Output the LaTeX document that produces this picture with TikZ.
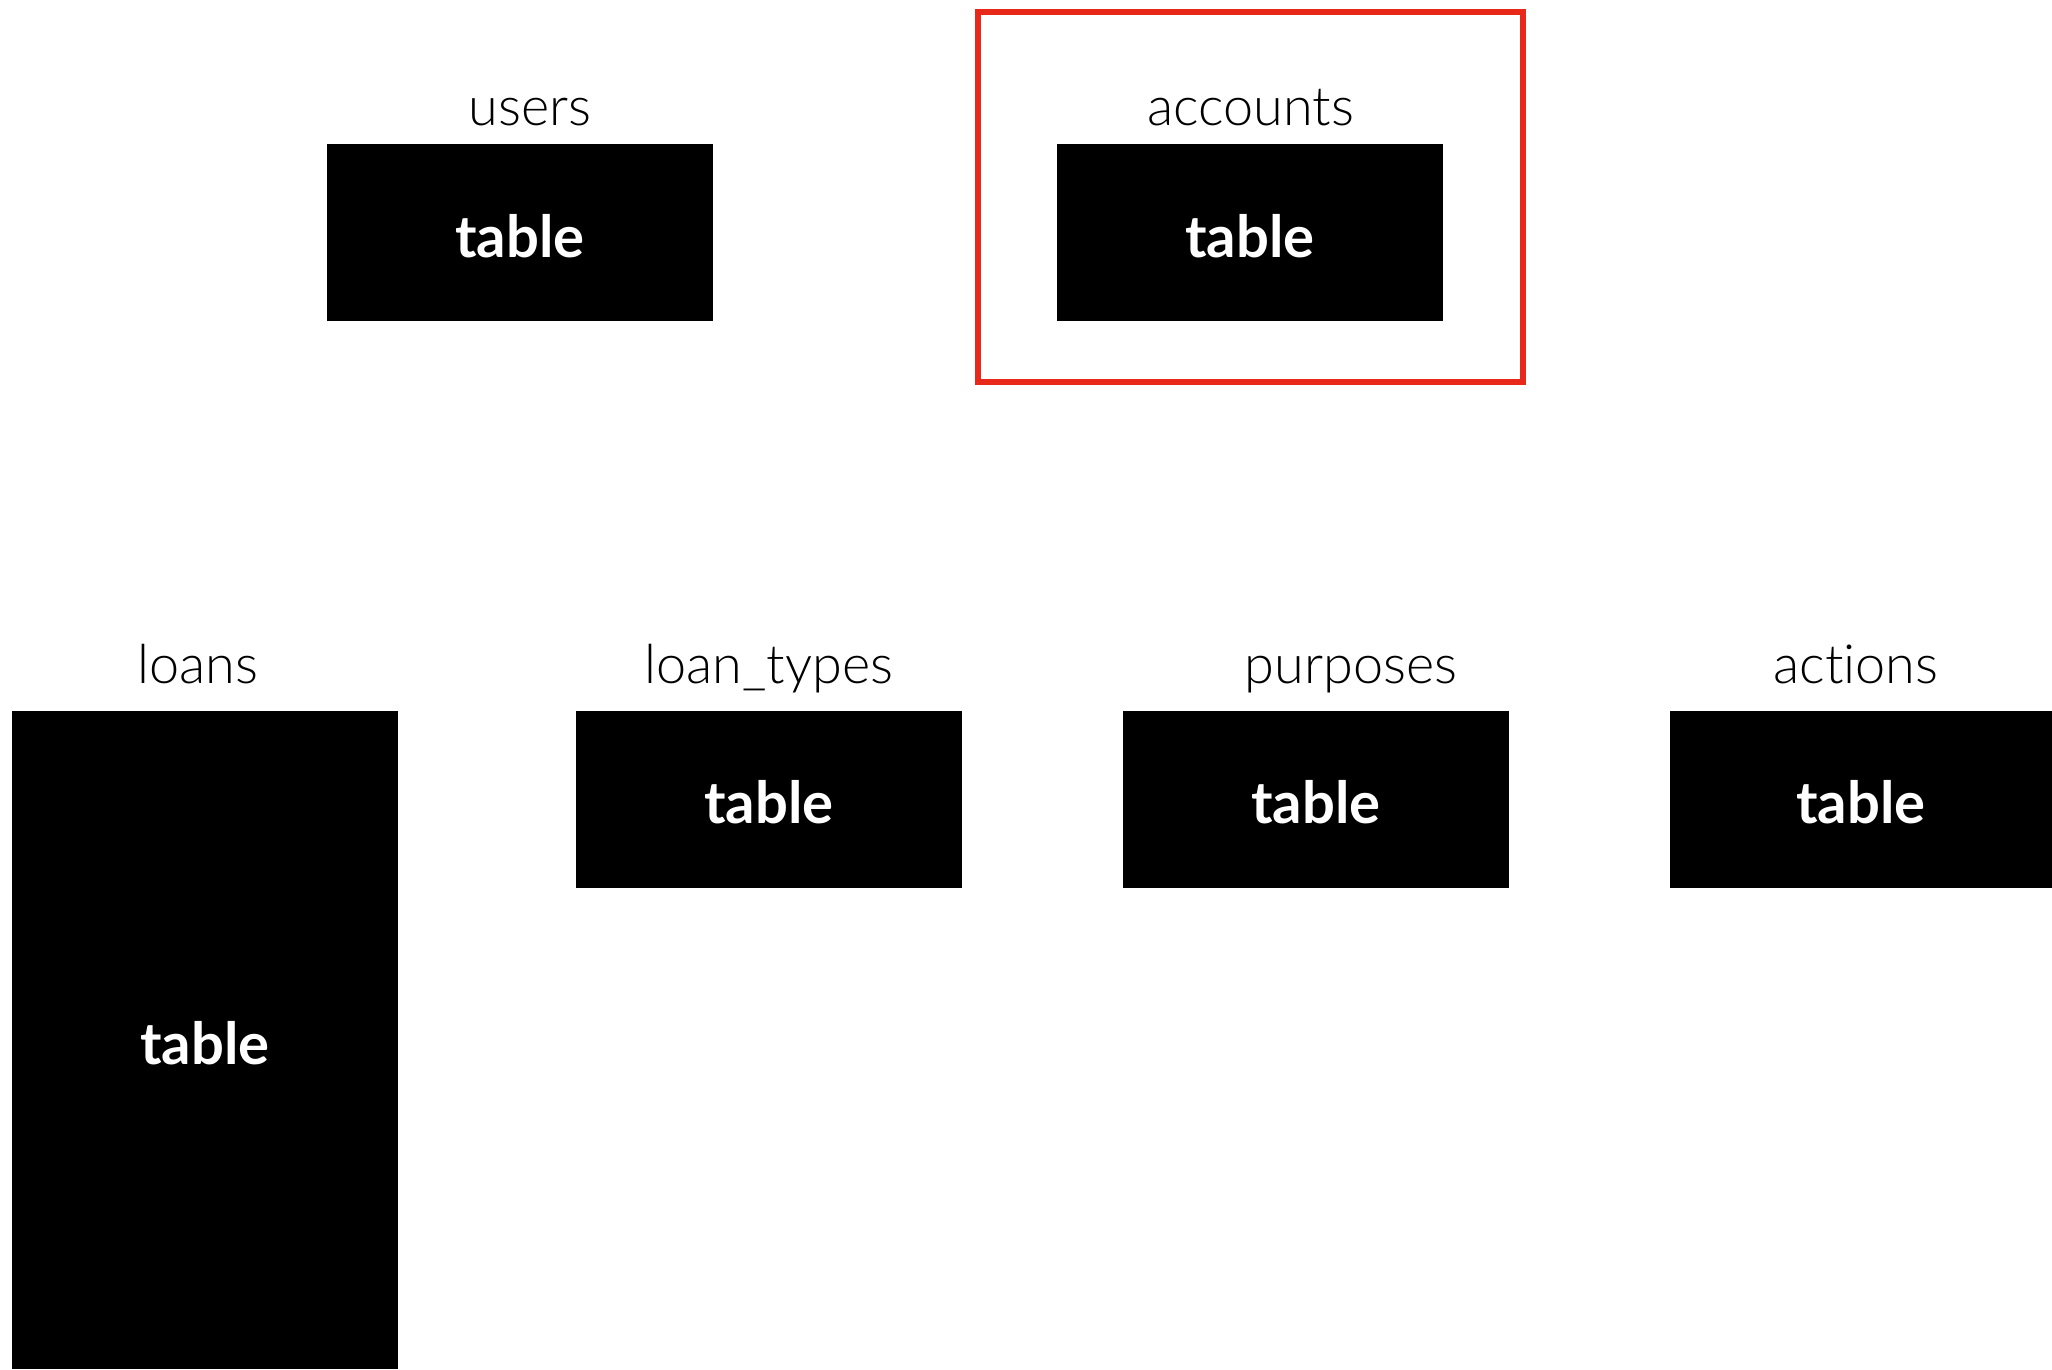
\documentclass[tikz,border=0pt]{standalone}
\usepackage{fontspec}
\setmainfont{Lato}
\newfontfamily\lightfont[Ligatures=NoCommon]{Lato Light}
\definecolor{hired}{RGB}{232,40,24}
\newcommand{\tbltext}{\raisebox{-3pt}[\height][0pt]{table}}
\begin{document}
\begin{tikzpicture}[x=1pt,y=-1pt,
  tbl/.style={fill=black,inner sep=0pt,minimum width=386pt,minimum height=177pt,
    text=white,font=\fontsize{58}{60}\selectfont\bfseries},
  lbl/.style={anchor=base,inner sep=0pt,font=\lightfont\fontsize{54}{56}\selectfont}]
\useasboundingbox[fill=white] (0,0) rectangle (2052,1369);
\node[tbl] (users) at (520,232.5) {\tbltext};
\node[tbl] (accounts) at (1250,232.5) {\tbltext};
\node[tbl,minimum height=658pt] (loans) at (205,1040) {\tbltext};
\node[tbl] (loantypes) at (769,799) {\tbltext};
\node[tbl] (purposes) at (1316,799) {\tbltext};
\node[tbl,minimum width=382pt] (actions) at (1861,799) {\tbltext};
\node[lbl] (usersl) at (530,125) {users};
\node[lbl] (accountsl) at (1251,125) {accounts};
\node[lbl] (loansl) at (198,683) {loans};
\node[lbl] (loantypesl) at (769,683) {loan\_types};
\node[lbl] (purposesl) at (1351,683) {purposes};
\node[lbl] (actionsl) at (1856,683) {actions};
\draw[hired,line width=5.5pt] (978,12) rectangle (1523,382);
\end{tikzpicture}
\end{document}
